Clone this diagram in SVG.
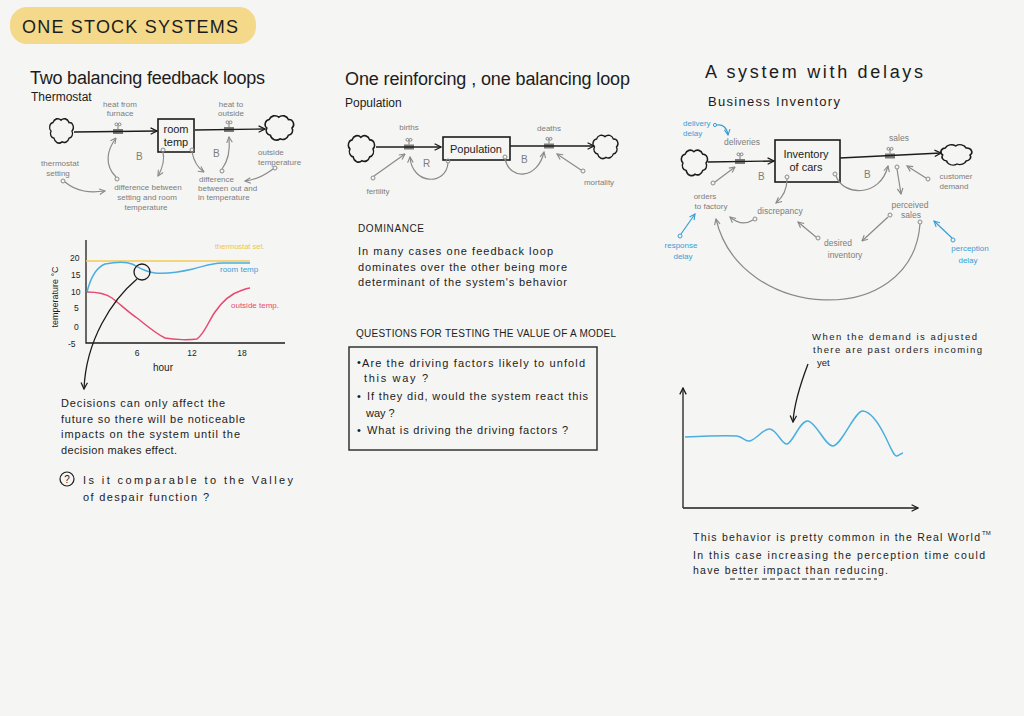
<svg xmlns="http://www.w3.org/2000/svg" xmlns:xlink="http://www.w3.org/1999/xlink" width="1024" height="716" viewBox="0 0 1024 716">
<style>
text{font-family:"Liberation Sans",Arial,sans-serif;fill:#1c1c1c}
.h{font-size:18px}
.sub{font-size:12px}
.b{font-size:11px}
.s{font-size:10px}
.g{fill:#7d7d7d;font-size:8px}
.gc{fill:#7d7d7d;font-size:8px;text-anchor:middle}
.bl{fill:#3a9dd6;font-size:8px;text-anchor:middle}
.m{text-anchor:middle}
.flow{stroke:#1c1c1c;stroke-width:1.4;fill:none}
.gl{stroke:#8a8a8a;stroke-width:1.2;fill:none}
.bline{stroke:#3a9dd6;stroke-width:1.2;fill:none}
.box{stroke:#1c1c1c;stroke-width:1.6;fill:none}
.dot{fill:none;stroke:#8a8a8a;stroke-width:1}
.bdot{fill:none;stroke:#3a9dd6;stroke-width:1}
.cloud{fill:none;stroke:#1c1c1c;stroke-width:1.3}
</style>
<defs>
<marker id="ak" viewBox="0 0 10 10" refX="9" refY="5" markerWidth="8" markerHeight="8" orient="auto" markerUnits="userSpaceOnUse"><path d="M1,1 L9,5 L1,9" fill="none" stroke="#1c1c1c" stroke-width="1.6"/></marker>
<marker id="ag" viewBox="0 0 10 10" refX="9" refY="5" markerWidth="7" markerHeight="7" orient="auto" markerUnits="userSpaceOnUse"><path d="M1,1 L9,5 L1,9" fill="none" stroke="#8a8a8a" stroke-width="1.6"/></marker>
<marker id="ab" viewBox="0 0 10 10" refX="9" refY="5" markerWidth="7" markerHeight="7" orient="auto" markerUnits="userSpaceOnUse"><path d="M1,1 L9,5 L1,9" fill="none" stroke="#3a9dd6" stroke-width="1.6"/></marker>
<path id="cl" class="cloud" d="M-8,6 a4,4 0 0 1 -3,-6 a4,4 0 0 1 2,-7 a5,5 0 0 1 8,-2 a5,5 0 0 1 8,2 a4,4 0 0 1 3,7 a4,4 0 0 1 -3,6 a5,5 0 0 1 -7,3 a5,5 0 0 1 -8,-3 z"/>
<g id="valve"><rect x="-5" y="-2.5" width="10" height="5" fill="#7a7a7a"/><line x1="0" y1="-2.5" x2="0" y2="-6" stroke="#7a7a7a" stroke-width="1"/><circle cx="-1.6" cy="-7.2" r="1.4" fill="none" stroke="#7a7a7a" stroke-width="0.9"/><circle cx="1.6" cy="-7.2" r="1.4" fill="none" stroke="#7a7a7a" stroke-width="0.9"/></g>
</defs>
<rect width="1024" height="716" fill="#f5f5f3"/>

<!-- Title -->
<g id="title">
<rect x="10" y="7" width="246" height="37" rx="17" fill="#f4d98b"/>
<text x="22" y="33" style="font-size:18px" textLength="216" lengthAdjust="spacing">ONE STOCK SYSTEMS</text>
</g>

<!-- Section headings -->
<g id="headings">
<text class="h" x="30" y="84" textLength="235" lengthAdjust="spacing">Two balancing feedback loops</text>
<text class="sub" x="31" y="101">Thermostat</text>
<text class="h" x="345" y="85" textLength="285" lengthAdjust="spacing">One reinforcing , one balancing loop</text>
<text class="sub" x="345" y="107">Population</text>
<text class="h" x="705" y="78" textLength="218" lengthAdjust="spacing">A system with delays</text>
<text style="font-size:13px" x="708" y="106" textLength="132" lengthAdjust="spacing">Business Inventory</text>
</g>

<!-- ===== Thermostat diagram ===== -->
<g id="thermo-cloud-in"><use href="#cl" transform="translate(62,131) scale(1,1.2)"/></g>
<g id="thermo-cloud-out"><use href="#cl" transform="translate(280,128) scale(1.2,1.2)"/></g>
<g id="thermo-valve-in"><use href="#valve" x="118" y="131.5"/><text class="gc" x="120" y="107">heat from</text><text class="gc" x="120" y="116">furnace</text></g>
<g id="thermo-valve-out"><use href="#valve" x="229" y="129.5"/><text class="gc" x="231" y="107">heat to</text><text class="gc" x="231" y="116">outside</text></g>
<g id="room-temp"><rect class="box" x="158" y="119" width="36" height="33"/><text class="b m" x="176" y="133">room</text><text class="b m" x="176" y="146">temp</text></g>
<g id="thermo-setting"><text class="gc" x="60" y="166">thermostat</text><text class="gc" x="58" y="176">setting</text></g>
<g id="thermo-outside"><text class="g" x="258" y="155">outside</text><text class="g" x="258" y="165">temperature</text></g>
<g id="thermo-diff1"><text class="gc" x="148" y="190">difference between</text><text class="gc" x="147" y="200">setting and room</text><text class="gc" x="146" y="210">temperature</text></g>
<g id="thermo-diff2"><text class="g" x="199" y="182">difference</text><text class="g" x="198" y="191">between out and</text><text class="g" x="198" y="200">in  temperature</text></g>
<g id="thermo-loops"><text class="g" x="136" y="160" style="font-size:10px">B</text><text class="g" x="213" y="157" style="font-size:10px">B</text></g>

<!-- ===== Population diagram ===== -->
<g id="pop-cloud-in"><use href="#cl" transform="translate(362,149) scale(1.1,1.3)"/></g>
<g id="pop-cloud-out"><use href="#cl" transform="translate(606,147) scale(1.05,1.15)"/></g>
<g id="births"><use href="#valve" x="409" y="147"/><text class="gc" x="409" y="130">births</text></g>
<g id="deaths"><use href="#valve" x="549" y="146"/><text class="gc" x="549" y="131">deaths</text></g>
<g id="population"><rect class="box" x="443" y="137" width="67" height="23"/><text class="b m" x="476" y="153">Population</text></g>
<g id="fertility"><text class="gc" x="378" y="194">fertility</text></g>
<g id="mortality"><text class="gc" x="599" y="185">mortality</text></g>
<g id="pop-loops"><text class="g" x="423" y="167" style="font-size:10px">R</text><text class="g" x="521" y="163" style="font-size:10px">B</text></g>

<!-- ===== Inventory diagram ===== -->
<g id="inv-cloud-in"><use href="#cl" transform="translate(695,163) scale(1.1,1.25)"/></g>
<g id="inv-cloud-out"><use href="#cl" transform="translate(957,155) scale(1.3,1.0)"/></g>
<g id="deliveries"><use href="#valve" x="740" y="161.5"/><text class="gc" x="742" y="145" style="font-size:8.5px">deliveries</text></g>
<g id="sales"><use href="#valve" x="890" y="156"/><text class="gc" x="899" y="141" style="font-size:8.5px">sales</text></g>
<g id="inventory"><rect class="box" x="775" y="140" width="65" height="42"/><text class="b m" x="806" y="158">Inventory</text><text class="b m" x="806" y="171">of cars</text></g>
<g id="delivery-delay"><text class="bl" x="683" y="126" style="text-anchor:start">delivery</text><text class="bl" x="683" y="136" style="text-anchor:start">delay</text></g>
<g id="orders"><text class="gc" x="705" y="199">orders</text><text class="gc" x="711" y="209">to factory</text></g>
<g id="customer-demand"><text class="gc" x="956" y="179">customer</text><text class="gc" x="954" y="189">demand</text></g>
<g id="discrepancy"><text class="gc" x="780" y="214" style="font-size:8.5px">discrepancy</text></g>
<g id="desired-inventory"><text class="gc" x="838" y="246" style="font-size:8.5px">desired</text><text class="gc" x="845" y="258" style="font-size:8.5px">inventory</text></g>
<g id="perceived-sales"><text class="gc" x="910" y="208" style="font-size:8.5px">perceived</text><text class="gc" x="911" y="218" style="font-size:8.5px">sales</text></g>
<g id="response-delay"><text class="bl" x="681" y="248">response</text><text class="bl" x="683" y="259">delay</text></g>
<g id="perception-delay"><text class="bl" x="970" y="251">perception</text><text class="bl" x="968" y="263">delay</text></g>
<g id="inv-loops"><text class="g" x="758" y="180" style="font-size:10px">B</text><text class="g" x="864" y="178" style="font-size:10px">B</text></g>

<!-- ===== Connectors ===== -->
<g id="connectors">
<path class="flow" d="M74,132 L157,131" marker-end="url(#ak)"/>
<path class="flow" d="M195,130 L265,129" marker-end="url(#ak)"/>
<circle class="dot" cx="117" cy="179" r="2"/><path class="gl" d="M116,177 C104,165 107,150 116,138" marker-end="url(#ag)"/>
<circle class="dot" cx="163" cy="150" r="2"/><path class="gl" d="M163,152 C165,161 162,169 158,176" marker-end="url(#ag)"/>
<circle class="dot" cx="63" cy="181" r="2"/><path class="gl" d="M65,182 C77,192 90,193 105,191" marker-end="url(#ag)"/>
<circle class="dot" cx="192" cy="150" r="2"/><path class="gl" d="M192,152 C194,162 198,168 204,172" marker-end="url(#ag)"/>
<circle class="dot" cx="222" cy="171" r="2"/><path class="gl" d="M222,169 C229,160 230,148 229,137" marker-end="url(#ag)"/>
<circle class="dot" cx="275" cy="168" r="2"/><path class="gl" d="M273,169 C265,175 255,180 245,181" marker-end="url(#ag)"/>
<path class="flow" d="M376,147 L441,147" marker-end="url(#ak)"/>
<path class="flow" d="M510,146 L594,146" marker-end="url(#ak)"/>
<circle class="dot" cx="448" cy="161" r="2"/><path class="gl" d="M448,163 C446,186 412,185 410,157" marker-end="url(#ag)"/>
<circle class="dot" cx="505" cy="157" r="2"/><path class="gl" d="M505,159 C510,181 538,179 544,152" marker-end="url(#ag)"/>
<circle class="dot" cx="373" cy="178" r="2"/><path class="gl" d="M374,176 L405,154" marker-end="url(#ag)"/>
<circle class="dot" cx="583" cy="171" r="2"/><path class="gl" d="M581,170 L557,154" marker-end="url(#ag)"/>
<path class="flow" d="M708,162 L774,161" marker-end="url(#ak)"/>
<path class="flow" d="M840,158 L941,153" marker-end="url(#ak)"/>
<circle class="bdot" cx="715" cy="125" r="1.6"/><path class="bline" d="M717,125 C723,124 727,128 728,135" marker-end="url(#ab)"/>
<circle class="dot" cx="713" cy="183" r="2"/><path class="gl" d="M715,182 L735,167" marker-end="url(#ag)"/>
<circle class="dot" cx="928" cy="179" r="2"/><path class="gl" d="M926,178 L907,166" marker-end="url(#ag)"/>
<circle class="dot" cx="897" cy="167" r="2"/><path class="gl" d="M897,169 L901,194" marker-end="url(#ag)"/>
<circle class="dot" cx="835" cy="174" r="2"/><path class="gl" d="M836,176 C843,196 880,198 888,166" marker-end="url(#ag)"/>
<circle class="dot" cx="787" cy="177" r="2"/><path class="gl" d="M787,179 C787,190 783,197 776,203" marker-end="url(#ag)"/>
<circle class="dot" cx="755" cy="219" r="2"/><path class="gl" d="M753,220 C745,225 737,223 730,217" marker-end="url(#ag)"/>
<circle class="dot" cx="818" cy="238" r="2"/><path class="gl" d="M816,237 L798,222" marker-end="url(#ag)"/>
<circle class="dot" cx="890" cy="215" r="2"/><path class="gl" d="M888,217 L862,241" marker-end="url(#ag)"/>
<circle class="dot" cx="920" cy="222" r="2"/><path class="gl" d="M920,224 C912,330 740,322 716,219" marker-end="url(#ag)"/>
<circle class="bdot" cx="680" cy="236" r="2"/><path class="bline" d="M681,234 L695,214" marker-end="url(#ab)"/>
<circle class="bdot" cx="953" cy="240" r="2"/><path class="bline" d="M952,238 L934,221" marker-end="url(#ab)"/>
</g>

<!-- ===== Left chart ===== -->
<g id="temp-chart">
<path d="M86,240 L86,343 L285,343" fill="none" stroke="#1c1c1c" stroke-width="1.3"/>
<g style="font-size:8.5px">
<text x="70" y="261">20</text><text x="71" y="278">15</text><text x="71" y="295">10</text><text x="74" y="311">5</text><text x="74" y="330">0</text><text x="68" y="347">-5</text>
<text class="m" x="137" y="356">6</text><text class="m" x="192" y="356">12</text><text class="m" x="242" y="356">18</text>
</g>
<text class="s m" x="163" y="371">hour</text>
<text style="font-size:9px" text-anchor="middle" transform="translate(58,297) rotate(-90)">temperature °C</text>
<path d="M86,261 L250,261" stroke="#f2cb55" stroke-width="1.5" fill="none"/>
<text x="215" y="249" style="font-size:7.5px;fill:#f0c54a">thermostat set.</text>
<path d="M87,292 C90,280 95,268 105,264 C115,262 125,261 132,264 C140,268 145,272 155,273 C165,274 180,272 193,269 C205,266 212,263 222,263 C235,263 244,263 250,263" stroke="#4aaee0" stroke-width="1.5" fill="none"/>
<text x="220" y="272" style="font-size:8px;fill:#3a9dd6">room temp</text>
<path d="M87,292 C97,292 105,293 112,298 C120,304 128,312 137,318 C146,325 155,333 165,338 C175,340 190,340 197,339 C205,333 208,322 215,312 C222,302 230,294 240,291 C245,289 248,288 250,288" stroke="#e8486f" stroke-width="1.5" fill="none"/>
<text x="231" y="308" style="font-size:8px;fill:#e8486f">outside temp.</text>
<circle cx="142" cy="272" r="8" fill="none" stroke="#1c1c1c" stroke-width="1.3"/>
<path d="M137,279 C112,300 86,340 84,389" fill="none" stroke="#1c1c1c" stroke-width="1.3" marker-end="url(#ak)"/>
</g>

<!-- ===== Left notes ===== -->
<g id="left-notes">
<text class="b" x="61" y="407" textLength="164" lengthAdjust="spacing">Decisions can only affect the</text>
<text class="b" x="61" y="423" textLength="184" lengthAdjust="spacing">future so there will be noticeable</text>
<text class="b" x="61" y="438" textLength="179" lengthAdjust="spacing">impacts on the system until the</text>
<text class="b" x="61" y="454" textLength="116" lengthAdjust="spacing">decision makes effect.</text>
<circle cx="67" cy="479" r="7" fill="none" stroke="#1c1c1c" stroke-width="1.2"/>
<text class="m" x="67" y="483" style="font-size:10px">?</text>
<text class="b" x="83" y="484" textLength="210" lengthAdjust="spacing">Is it comparable to the Valley</text>
<text class="b" x="83" y="501" textLength="126" lengthAdjust="spacing">of despair function ?</text>
</g>

<!-- ===== Middle notes ===== -->
<g id="dominance">
<text class="s" x="358" y="232" textLength="66" lengthAdjust="spacing">DOMINANCE</text>
<text class="b" x="358" y="255" textLength="195" lengthAdjust="spacing">In many cases one feedback loop</text>
<text class="b" x="358" y="271" textLength="209" lengthAdjust="spacing">dominates over the other being more</text>
<text class="b" x="358" y="286" textLength="209" lengthAdjust="spacing">determinant of the system's behavior</text>
</g>
<g id="questions">
<text class="s" x="356" y="337" textLength="260" lengthAdjust="spacing">QUESTIONS FOR TESTING THE VALUE OF A MODEL</text>
<rect x="349" y="347" width="248" height="103" fill="none" stroke="#333" stroke-width="1.5"/>
<text class="b" x="357" y="366">•</text>
<text class="b" x="362" y="367" textLength="223" lengthAdjust="spacing">Are the driving factors likely to unfold</text>
<text class="b" x="364" y="382" textLength="64" lengthAdjust="spacing">this way ?</text>
<text class="b" x="357" y="400">•</text>
<text class="b" x="367" y="400" textLength="221" lengthAdjust="spacing">If they did, would the system react this</text>
<text class="b" x="366" y="417">way ?</text>
<text class="b" x="357" y="434">•</text>
<text class="b" x="367" y="434" textLength="201" lengthAdjust="spacing">What is driving the driving factors ?</text>
</g>

<!-- ===== Right chart ===== -->
<g id="delay-chart">
<path d="M683,508 L683,388" fill="none" stroke="#1c1c1c" stroke-width="1.3" marker-end="url(#ak)"/>
<path d="M683,508 L918,508" fill="none" stroke="#1c1c1c" stroke-width="1.3" marker-end="url(#ak)"/>
<path d="M685,437 C705,436 725,435 737,436 C743,437 746,442 750,441 C758,438 764,428 770,429 C777,430 782,445 787,444 C793,443 800,420 808,421 C816,422 826,447 833,446 C842,445 855,410 863,411 C872,412 880,426 885,436 C890,446 894,457 897,456 C900,455 902,453 903,453" fill="none" stroke="#4aaee0" stroke-width="1.5"/>
<text x="812" y="340" style="font-size:9.5px" textLength="165" lengthAdjust="spacing">When the demand is adjusted</text>
<text x="813" y="353" style="font-size:9.5px" textLength="169" lengthAdjust="spacing">there are past orders incoming</text>
<text x="817" y="366" style="font-size:9.5px">yet</text>
<path d="M808,364 C800,385 794,405 793,422" fill="none" stroke="#1c1c1c" stroke-width="1.3" marker-end="url(#ak)"/>
</g>

<!-- ===== Right notes ===== -->
<g id="right-notes">
<text x="693" y="541" style="font-size:10.5px" textLength="287" lengthAdjust="spacing">This behavior is pretty common in the Real World</text>
<text x="982" y="535" style="font-size:6px">TM</text>
<text x="693" y="559" style="font-size:10.5px" textLength="292" lengthAdjust="spacing">In this case increasing the perception time could</text>
<text x="693" y="574" style="font-size:10.5px" textLength="195" lengthAdjust="spacing">have better impact than reducing.</text>
<path d="M730,579 L877,579" stroke="#1c1c1c" stroke-width="1" stroke-dasharray="5,3" fill="none"/>
</g>
</svg>
